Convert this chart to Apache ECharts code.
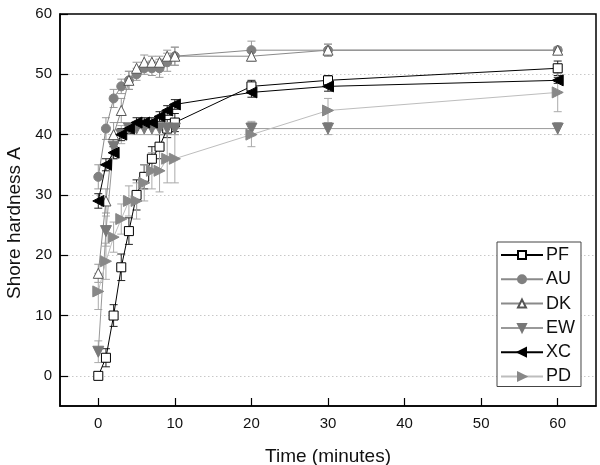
<!DOCTYPE html>
<html><head><meta charset="utf-8">
<script src="https://cdn.jsdelivr.net/npm/echarts@6/dist/echarts.min.js"></script>
<style>html,body{margin:0;padding:0;background:#fff}#c{width:600px;height:465px}</style>
</head><body><div id="c"></div>
<script>
const times = [0,1,2,3,4,5,6,7,8,9,10,20,30,60];
const xTicks = [0,10,20,30,40,50,60];
const yTicks = [0,10,20,30,40,50,60];
const yGrid = [0,10,20,30,40,50];
const seriesNames = ['PF','AU','DK','EW','XC','PD'];
const pf   = [0,3,10,18,24,30,33,36,38,41,42,48,49,51];
const pfErr= [0.5,1.5,1.8,2.2,2.2,2.5,2,2,2,1.5,1.5,1,0.8,1.2];
const au   = [33,41,46,48,49,50,51,51,51,52,53,54,54,54];
const auErr= [2,1.8,1.5,1.2,1.5,1,1,1.2,1.5,1.5,1.5,1.5,1,0.5];
const dk   = [17,29,40,44,49,51,52,52,52,53,53,53,54,54];
const dkErr= [1.5,2,2,2,1.5,1,1.2,1,1,1,1.5,0.8,1,0.5];
const ew   = [4,24,38,40,41,41,41,41,41,41,41,41,41,41];
const ewErr= [1.8,2.5,2,1.5,1,1,1,1,1,1,1,1.2,1,1];
const xc   = [29,35,37,40,41,42,42,42,43,44,45,47,48,49];
const xcErr= [1.2,1,1,1,0.8,0.8,0.8,0.8,0.8,0.8,0.8,0.8,0.8,0.5];
const pd   = [14,19,23,26,29,29,32,34,34,36,36,40,44,47];
const pdErr= [3,3,2.5,2.5,2.5,3,3,3,3.5,4,4,2,2,3.2];

const styles = {
  PF:{line:'#000', fill:'#fff', border:'#000', symbol:'rect', size:9, rot:0},
  AU:{line:'#8a8a8a', fill:'#808080', border:'#808080', symbol:'circle', size:9, rot:0},
  DK:{line:'#8a8a8a', fill:'#fff', border:'#555', symbol:'triangle', size:10, rot:0},
  EW:{line:'#999', fill:'#787878', border:'#787878', symbol:'triangle', size:11, rot:180},
  XC:{line:'#000', fill:'#000', border:'#000', symbol:'triangle', size:11, rot:90},
  PD:{line:'#bdbdbd', fill:'#888', border:'#888', symbol:'triangle', size:11, rot:-90}
};
const vals = {PF:pf, AU:au, DK:dk, EW:ew, XC:xc, PD:pd};
const errs = {PF:pfErr, AU:auErr, DK:dkErr, EW:ewErr, XC:xcErr, PD:pdErr};
const errColor = {PF:'#222', AU:'#999', DK:'#999', EW:'#aaa', XC:'#222', PD:'#aaa'};

function errSeries(name){
  const v = vals[name], e = errs[name], c = errColor[name];
  return {
    type:'custom', name: name+'_err', silent:true, z:1,
    data: times.map((t,i)=>[t, v[i]-e[i], v[i]+e[i]]),
    encode:{x:0, y:[1,2]},
    renderItem:(params, api)=>{
      const x = api.value(0);
      const lo = api.coord([x, api.value(1)]);
      const hi = api.coord([x, api.value(2)]);
      const w = 4;
      const st = {stroke:c, lineWidth:1};
      return {type:'group', children:[
        {type:'line', shape:{x1:lo[0],y1:lo[1],x2:hi[0],y2:hi[1]}, style:st},
        {type:'line', shape:{x1:lo[0]-w,y1:lo[1],x2:lo[0]+w,y2:lo[1]}, style:st},
        {type:'line', shape:{x1:hi[0]-w,y1:hi[1],x2:hi[0]+w,y2:hi[1]}, style:st}
      ]};
    }
  };
}
function lineSeries(name){
  const s = styles[name];
  return {
    type:'line', name, z:3,
    data: times.map((t,i)=>[t, vals[name][i]]),
    symbol: s.symbol, symbolSize: s.size, symbolRotate: s.rot, showAllSymbol:true,
    lineStyle:{color:s.line, width:1},
    itemStyle:{color:s.fill, borderColor:s.border, borderWidth:1},
    emphasis:{disabled:true}, animation:false
  };
}
const series = [];
// gridlines
series.push({type:'line', data:[], silent:true, z:0, markLine:{silent:true, z:0, symbol:'none', label:{show:false},
  lineStyle:{color:'#c8c8c8', type:[1.5,2.5], width:1}, data: yGrid.map(y=>({yAxis:y}))}});
seriesNames.forEach(n=>series.push(errSeries(n)));
seriesNames.forEach(n=>series.push(lineSeries(n)));

const chart = echarts.init(document.getElementById('c'), null, {renderer:'canvas'});
chart.setOption({
  animation:false,
  backgroundColor:'#fff',
  grid:{left:60, right:4, top:14, bottom:59, containLabel:false, outerBoundsMode:'none',
    show:true, borderColor:'#000', borderWidth:1.5, backgroundColor:'transparent'},
  xAxis:{type:'value', min:-5, max:65,
    name:'Time (minutes)', nameLocation:'middle', nameGap:41,
    nameTextStyle:{fontFamily:'Liberation Sans', fontSize:19, color:'#111'},
    axisLine:{show:true, onZero:false, lineStyle:{color:'#000', width:1.5}},
    axisTick:{show:true, inside:true, length:8, customValues:xTicks, lineStyle:{color:'#000', width:1.2}},
    axisLabel:{customValues:xTicks, margin:10, fontFamily:'Liberation Sans', fontSize:15, color:'#111'},
    splitLine:{show:false}},
  yAxis:{type:'value', min:-5, max:60,
    name:'Shore hardness A', nameLocation:'middle', nameGap:26,
    nameTextStyle:{fontFamily:'Liberation Sans', fontSize:19, color:'#111', padding:[0,26,0,0]},
    axisLine:{show:true, onZero:false, lineStyle:{color:'#000', width:1.5}},
    axisTick:{show:true, inside:true, length:8, customValues:yTicks, lineStyle:{color:'#000', width:1.2}},
    axisLabel:{customValues:yTicks, margin:8, fontFamily:'Liberation Sans', fontSize:15, color:'#111'},
    splitLine:{show:false}},
  legend:{data:seriesNames, orient:'vertical', left:497, top:242, z:10,
    itemWidth:42, itemHeight:10, itemGap:6.3,
    borderColor:'#444', borderWidth:1, backgroundColor:'#fff', padding:[4,6,1,3],
    textStyle:{fontFamily:'Liberation Sans', fontSize:18, color:'#111', padding:[0,0,0,-2]}},
  series
});
</script></body></html>
